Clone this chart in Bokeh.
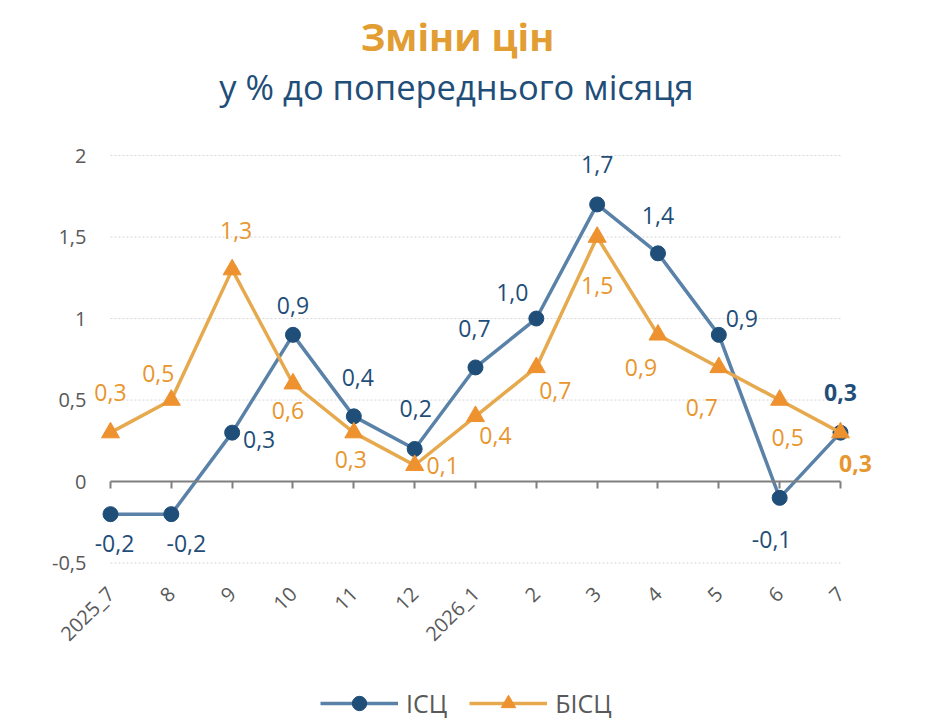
from math import pi

from bokeh.core.properties import value
from bokeh.embed import file_html
from bokeh.models import (ColumnDataSource, CustomJSTickFormatter, FixedTicker,
                          Label, LabelSet, Legend, LegendItem, LinearAxis,
                          Range1d)
from bokeh.plotting import figure
from bokeh.resources import INLINE

# data
categories = ["2025_7", "8", "9", "10", "11", "12", "2026_1",
              "2", "3", "4", "5", "6", "7"]
isc = [-0.2, -0.2, 0.3, 0.9, 0.4, 0.2, 0.7, 1.0, 1.7, 1.4, 0.9, -0.1, 0.3]
bisc = [0.3, 0.5, 1.3, 0.6, 0.3, 0.1, 0.4, 0.7, 1.5, 0.9, 0.7, 0.5, 0.3]
y_ticks = [-0.5, 0, 0.5, 1, 1.5, 2]

# label placement (screen px, y up), as in the source chart
isc_dx = [4, 15, 27, 0, 4, 1, -1, -24, 0, 0, 23, -8, 0]
isc_dy = [-29, -29, -7, 29, 39, 40, 39, 26, 40, 38, 16, -42, 40]
bisc_dx = [0, -13, 4, -5, -3, 28, 20, 19, 0, -17, -17, 8, 15]
bisc_dy = [40, 27, 39, -27, -27, 0, -19, -23, -48, -33, -40, -37, -31]

FONT = "Open Sans"
BLUE_LINE = "#5A82A8"
BLUE_DARK = "#1F4E79"
ORANGE_LINE = "#E6A94D"
ORANGE_MARK = "#EE912F"
ORANGE_TEXT = "#E8962E"
GREY_TEXT = "#595959"

x = list(range(len(categories)))


def fmt(v):
    return f"{v:.1f}".replace(".", ",")


def label_source(vals, dx, dy):
    styles = ["normal"] * (len(vals) - 1) + ["bold"]
    return ColumnDataSource(dict(x=x, y=vals, text=[fmt(v) for v in vals],
                                 dx=dx, dy=dy, style=styles))


# the frame fills the whole canvas; titles, axes and legend sit inside it
p = figure(width=929, height=721, output_backend="svg", toolbar_location=None,
           x_axis_location=None, y_axis_location=None,
           x_range=Range1d(-1.808, 13.463),
           y_range=Range1d(-1.472, 2.951),
           min_border_left=0, min_border_right=0,
           min_border_top=0, min_border_bottom=0)
p.title_location = None
p.outline_line_color = None
p.xgrid.visible = False
p.ygrid.visible = False

# y axis: labels only, left of the first category
y_axis = LinearAxis(fixed_location=x[0], ticker=FixedTicker(ticks=y_ticks),
                    formatter=CustomJSTickFormatter(
                        code="return String(tick).replace('.', ',')"))
y_axis.axis_line_color = None
y_axis.major_tick_line_color = None
y_axis.minor_tick_line_color = None
y_axis.major_label_standoff = 18
y_axis.major_label_text_font = FONT
y_axis.major_label_text_font_size = "20px"
y_axis.major_label_text_color = GREY_TEXT
p.add_layout(y_axis, "left")

# category labels under the lowest gridline
cat_axis = LinearAxis(fixed_location=-0.55, ticker=FixedTicker(ticks=x),
                      major_label_overrides={i: c for i, c in enumerate(categories)})
cat_axis.axis_line_color = None
cat_axis.major_tick_line_color = None
cat_axis.minor_tick_line_color = None
cat_axis.major_label_orientation = pi / 4
cat_axis.major_label_standoff = 13
cat_axis.major_label_text_font = FONT
cat_axis.major_label_text_font_size = "20px"
cat_axis.major_label_text_color = GREY_TEXT
p.add_layout(cat_axis, "below")

# axis line crossing at zero
zero_axis = LinearAxis(fixed_location=0, ticker=FixedTicker(ticks=x),
                       bounds=(x[0], x[-1]),
                       formatter=CustomJSTickFormatter(code="return ''"))
zero_axis.axis_line_color = "#7F7F7F"
zero_axis.axis_line_width = 2
zero_axis.major_tick_line_color = "#7F7F7F"
zero_axis.major_tick_line_width = 2
zero_axis.major_tick_in = 0
zero_axis.major_tick_out = 7
zero_axis.minor_tick_line_color = None
p.add_layout(zero_axis, "below")

# dotted gridlines
grid_y = [t for t in y_ticks if t != 0]
p.segment(x0=[x[0]] * len(grid_y), x1=[x[-1]] * len(grid_y),
          y0=grid_y, y1=grid_y, line_color="#D6D6D6", line_width=1,
          line_dash="2 2")

r_isc_line = p.line(x, isc, line_color=BLUE_LINE, line_width=3.5)
r_isc_mark = p.scatter(x, isc, marker="circle", size=15, color=BLUE_DARK)
r_bisc_line = p.line(x, bisc, line_color=ORANGE_LINE, line_width=3.5)
r_bisc_mark = p.scatter(x, bisc, marker="triangle", size=18,
                        color=ORANGE_MARK)

for vals, dx, dy, col in ((isc, isc_dx, isc_dy, BLUE_DARK),
                          (bisc, bisc_dx, bisc_dy, ORANGE_TEXT)):
    labels = LabelSet(x="x", y="y", text="text", x_offset="dx", y_offset="dy",
                      text_font_style="style", source=label_source(vals, dx, dy),
                      text_align="center", text_baseline="middle",
                      text_font=value(FONT), text_font_size="23px",
                      text_color=col)
    p.add_layout(labels)

legend = Legend(items=[
    LegendItem(label="ІСЦ", renderers=[r_isc_line, r_isc_mark]),
    LegendItem(label="БІСЦ", renderers=[r_bisc_line, r_bisc_mark]),
], orientation="horizontal", location=(320, 0))
legend.label_text_font = FONT
legend.label_text_font_size = "25px"
legend.label_text_color = GREY_TEXT
legend.glyph_width = 78
legend.glyph_height = 36
legend.label_standoff = 8
legend.spacing = 22
legend.padding = 0
legend.margin = 0
legend.border_line_color = None
legend.background_fill_alpha = 0
p.add_layout(legend)

p.add_layout(Label(x=457, y=686, x_units="screen", y_units="screen",
                   text="Зміни цін", text_align="center",
                   text_baseline="alphabetic", text_font=FONT,
                   text_font_size="38px", text_font_style="bold",
                   text_color="#E29D33"))
p.add_layout(Label(x=456, y=635, x_units="screen", y_units="screen",
                   text="у % до попереднього місяця", text_align="center",
                   text_baseline="alphabetic", text_font=FONT,
                   text_font_size="34.5px", text_color=BLUE_DARK))

open("out.html", "w").write(file_html(p, INLINE))
